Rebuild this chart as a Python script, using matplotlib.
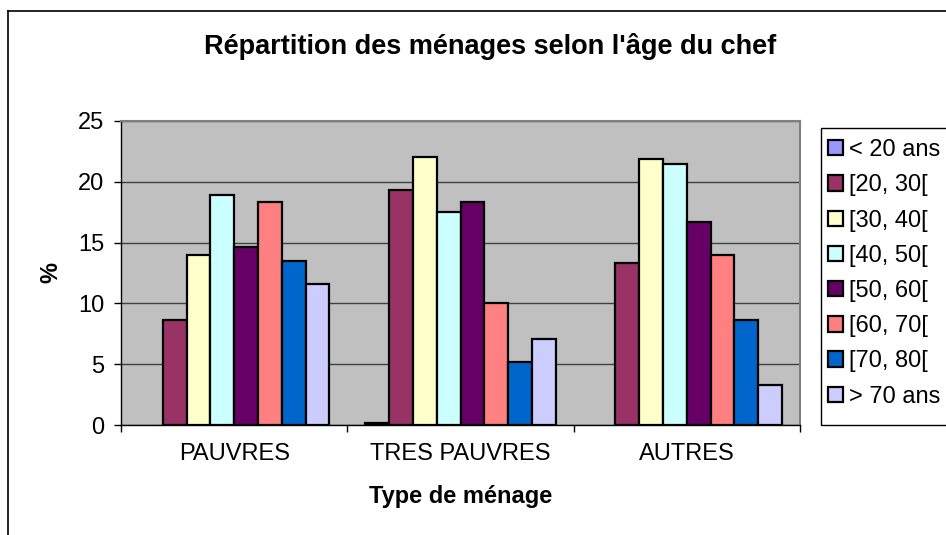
import numpy as np
import matplotlib
matplotlib.use("Agg")
import matplotlib.pyplot as plt
from matplotlib.lines import Line2D
from matplotlib.patches import Rectangle

plt.rcParams['font.family'] = ['Liberation Sans', 'DejaVu Sans']

categories = ["PAUVRES", "TRES PAUVRES", "AUTRES"]
age_groups = ["< 20 ans", "[20, 30[", "[30, 40[", "[40, 50[", "[50, 60[",
              "[60, 70[", "[70, 80[", "> 70 ans"]
colors = ["#9999FF", "#993366", "#FFFFCC", "#CCFFFF", "#660066",
          "#FF8080", "#0066CC", "#CCCCFF"]

# % of households per age group, one list per age group (PAUVRES, TRES PAUVRES, AUTRES)
lt20 = [0.0, 0.2, 0.0]
a20_30 = [8.6, 19.3, 13.3]
a30_40 = [14.0, 22.0, 21.9]
a40_50 = [18.9, 17.5, 21.5]
a50_60 = [14.6, 18.3, 16.7]
a60_70 = [18.3, 10.0, 14.0]
a70_80 = [13.5, 5.2, 8.6]
gt70 = [11.6, 7.1, 3.3]
series = [lt20, a20_30, a30_40, a40_50, a50_60, a60_70, a70_80, gt70]

W, H = 946, 535
fig = plt.figure(figsize=(W / 100, H / 100), dpi=100)
ax = fig.add_axes([121 / W, 1 - 425 / H, (800 - 121) / W, (425 - 121) / H])
ax.set_facecolor("#C0C0C0")

x = np.arange(len(categories))
w = 1 / 9.5
for j, vals in enumerate(series):
    heights = np.array(vals, dtype=float)
    heights[heights == 0] = np.nan   # empty cells are not drawn
    ax.bar(x + (j - 3.5) * w, heights, width=w, color=colors[j],
           edgecolor="black", linewidth=1.6, label=age_groups[j], zorder=3)

ax.set_xlim(-0.5, 2.5)
ax.set_ylim(0, 25)
ax.set_yticks(range(0, 26, 5))
ax.yaxis.grid(True, color="#404040", linewidth=1, zorder=1)
ax.set_axisbelow(True)

ax.set_xticks(x)
ax.set_xticklabels(categories)
ax.set_xticks([-0.5, 0.5, 1.5, 2.5], minor=True)
ax.tick_params(axis="x", which="major", length=0, pad=13, labelsize=17)
ax.tick_params(axis="x", which="minor", length=5, width=1, direction="out")
ax.tick_params(axis="y", length=5, width=1, direction="out", pad=7, labelsize=17)

for s in ["left", "bottom"]:
    ax.spines[s].set_color("black")
    ax.spines[s].set_linewidth(1)
for s in ["top", "right"]:
    ax.spines[s].set_color("#808080")
    ax.spines[s].set_linewidth(1.5)

ax.set_xlabel("Type de ménage", fontsize=17, fontweight="bold", labelpad=14)
ax.set_ylabel("%", fontsize=17, fontweight="bold")
ax.yaxis.set_label_coords(-0.086, 0.5)

fig.text(490 / W, 1 - 46 / H, "Répartition des ménages selon l'âge du chef",
         ha="center", va="center", fontsize=19.5, fontweight="bold")

leg = ax.legend(loc="upper left", bbox_to_anchor=(821 / W, 1 - 132 / H),
                bbox_transform=fig.transFigure, fontsize=17, frameon=False,
                handlelength=0.62, handleheight=0.62, handletextpad=0.25,
                labelspacing=0.56, borderpad=0.3, borderaxespad=0)
for h in leg.legend_handles:
    h.set_linewidth(1.6)

# legend box (runs past the right edge like the original)
fig.add_artist(Rectangle((821 / W, 1 - 425 / H), 140 / W, 297 / H,
                         transform=fig.transFigure, facecolor="none",
                         edgecolor="black", linewidth=1))

# outer chart frame
fig.add_artist(Line2D([8 / W, 1], [1 - 11 / H, 1 - 11 / H], color="black", linewidth=1.2))
fig.add_artist(Line2D([8 / W, 8 / W], [0, 1 - 11 / H], color="black", linewidth=1.2))

fig.savefig("out.png", dpi=100)
